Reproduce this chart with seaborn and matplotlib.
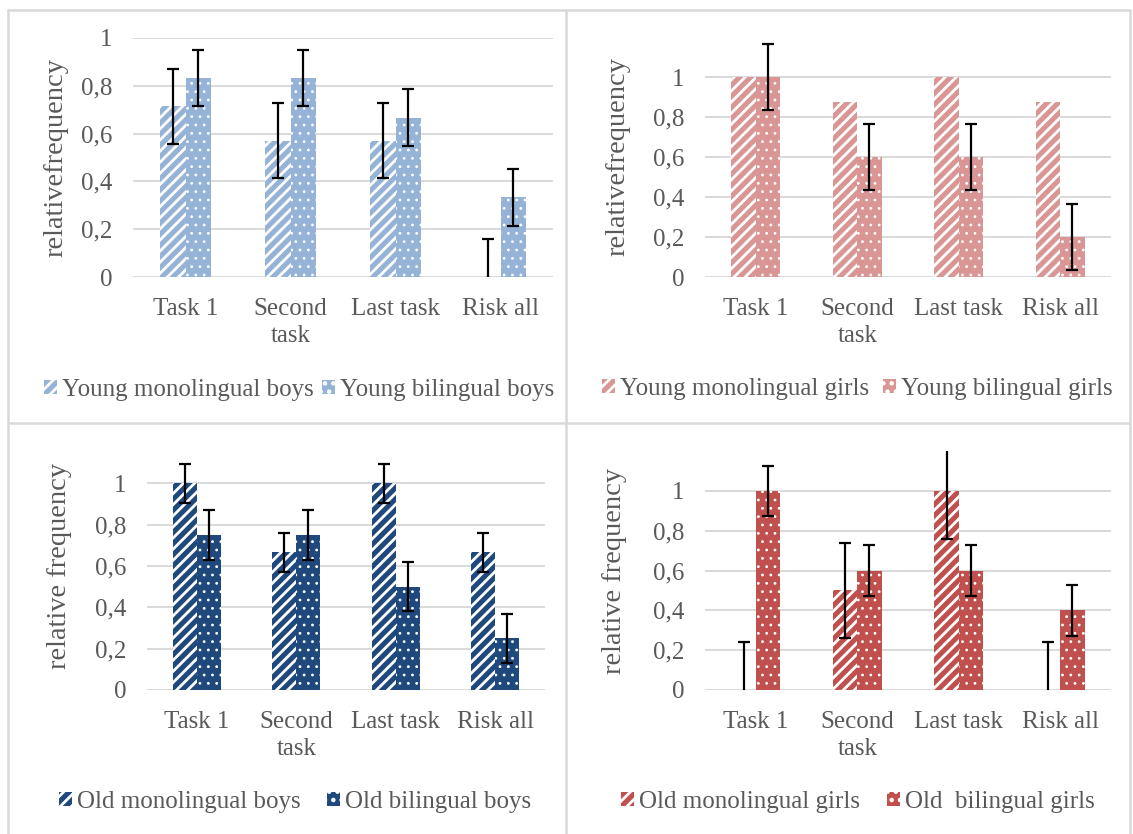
import numpy as np
import pandas as pd
import matplotlib
matplotlib.use("Agg")
import matplotlib.pyplot as plt
import seaborn as sns
from matplotlib.patches import Patch
from matplotlib.lines import Line2D

# ---------------- data ----------------
categories = ["Task 1", "Second\ntask", "Last task", "Risk all"]
ytick_values = [0, 0.2, 0.4, 0.6, 0.8, 1.0]
ytick_labels = ["0", "0,2", "0,4", "0,6", "0,8", "1"]

young_boys_mono = [0.714, 0.571, 0.571, 0.0]
young_boys_mono_err = [0.157, 0.157, 0.157, 0.157]
young_boys_bil = [0.833, 0.833, 0.667, 0.333]
young_boys_bil_err = [0.118, 0.118, 0.118, 0.118]

young_girls_mono = [1.0, 0.875, 1.0, 0.875]
young_girls_mono_err = None
young_girls_bil = [1.0, 0.6, 0.6, 0.2]
young_girls_bil_err = [0.163, 0.163, 0.163, 0.163]

old_boys_mono = [1.0, 0.667, 1.0, 0.667]
old_boys_mono_err = [0.095, 0.095, 0.095, 0.095]
old_boys_bil = [0.75, 0.75, 0.5, 0.25]
old_boys_bil_err = [0.12, 0.12, 0.12, 0.12]

old_girls_mono = [0.0, 0.5, 1.0, 0.0]
old_girls_mono_err = [0.24, 0.24, 0.24, 0.24]
old_girls_bil = [1.0, 0.6, 0.6, 0.4]
old_girls_bil_err = [0.127, 0.127, 0.127, 0.127]

legend_labels = [
    ["Young monolingual boys", "Young bilingual boys"],
    ["Young monolingual girls", "Young bilingual girls"],
    ["Old monolingual boys", "Old bilingual boys"],
    ["Old monolingual girls", "Old  bilingual girls"],
]
ylabels = ["relativefrequency", "relativefrequency", "relative frequency", "relative frequency"]
colors = ["#95B3D7", "#D99694", "#1F497D", "#C0504D"]

# ---------------- style ----------------
sns.set_style("white")
plt.rcParams["font.family"] = ["Liberation Serif", "DejaVu Serif"]
plt.rcParams["hatch.linewidth"] = 2.0
TEXT = "#595959"
GRID = "#D9D9D9"
FS = 18

W, H = 1133, 834
fig = plt.figure(figsize=(W / 100, H / 100), dpi=100)

# panel borders
for (x0, y0, x1, y1) in [(8, 10, 1130, 10), (8, 10, 8, 834), (1130, 10, 1130, 834),
                         (566, 10, 566, 834), (8, 423, 1130, 423)]:
    fig.add_artist(Line2D([x0 / W, x1 / W], [1 - y0 / H, 1 - y1 / H],
                          color=GRID, lw=1.8, transform=fig.transFigure))


def px_axes(left, right, top, bottom):
    return [left / W, 1 - bottom / H, (right - left) / W, (bottom - top) / H]


panels = [
    dict(rect=px_axes(133, 553, 38, 277), ymax=1.0, mono=young_boys_mono, mono_err=young_boys_mono_err,
         bil=young_boys_bil, bil_err=young_boys_bil_err, ylab_x=68, leg=(299, 390), colsp=0.35),
    dict(rect=px_axes(705, 1111, 37, 277), ymax=1.2, mono=young_girls_mono, mono_err=young_girls_mono_err,
         bil=young_girls_bil, bil_err=young_girls_bil_err, ylab_x=630, leg=(857, 389), colsp=0.55),
    dict(rect=px_axes(147, 545, 442, 690), ymax=1.2, mono=old_boys_mono, mono_err=old_boys_mono_err,
         bil=old_boys_bil, bil_err=old_boys_bil_err, ylab_x=72, leg=(295, 802), colsp=1.05),
    dict(rect=px_axes(705, 1111, 451, 690), ymax=1.2, mono=old_girls_mono, mono_err=old_girls_mono_err,
         bil=old_girls_bil, bil_err=old_girls_bil_err, ylab_x=627, leg=(858, 802), colsp=1.1),
]

MONO_HATCH = "///"
BIL_HATCH = ".."


def style_bar(p, hatch):
    p.set_hatch(hatch)
    p.set_edgecolor("white")
    p.set_linewidth(0)
    if hasattr(p, "set_hatch_linewidth"):
        p.set_hatch_linewidth(2.0 if hatch == MONO_HATCH else 0.8)


for i, pnl in enumerate(panels):
    ax = fig.add_axes(pnl["rect"])
    color = colors[i]
    df = pd.DataFrame({
        "task": categories * 2,
        "value": list(pnl["mono"]) + list(pnl["bil"]),
        "group": ["mono"] * 4 + ["bil"] * 4,
    })
    sns.barplot(data=df, x="task", y="value", hue="group", hue_order=["mono", "bil"],
                palette=[color, color], width=0.48, errorbar=None, saturation=1,
                legend=False, ax=ax)
    for p in ax.containers[0]:
        style_bar(p, MONO_HATCH)
    for p in ax.containers[1]:
        style_bar(p, BIL_HATCH)

    for cont, vals, errs in [(ax.containers[0], pnl["mono"], pnl["mono_err"]),
                             (ax.containers[1], pnl["bil"], pnl["bil_err"])]:
        if errs is None:
            continue
        xs = [p.get_x() + p.get_width() / 2 for p in cont]
        ax.errorbar(xs, vals, yerr=errs, fmt="none", ecolor="black", elinewidth=1.6,
                    capsize=4.3, capthick=1.6, zorder=5)

    ax.set_ylim(0, pnl["ymax"])
    ax.set_xlim(-0.5, 3.5)
    ax.set_yticks(ytick_values)
    ax.set_yticklabels(ytick_labels)
    ax.yaxis.grid(True, color=GRID, lw=1.4)
    ax.xaxis.grid(False)
    ax.set_axisbelow(True)
    for s in ax.spines.values():
        s.set_visible(False)
    ax.tick_params(axis="y", length=0, pad=15, labelsize=FS, labelcolor=TEXT)
    ax.tick_params(axis="x", length=0, pad=15, labelsize=FS, labelcolor=TEXT)
    for t in ax.get_xticklabels():
        t.set_linespacing(1.3)
    ax.set_xlabel("")
    ax.set_ylabel(ylabels[i], fontsize=FS + 2.5, color=TEXT)
    left_px = pnl["rect"][0] * W
    width_px = pnl["rect"][2] * W
    ax.yaxis.set_label_coords((pnl["ylab_x"] - left_px) / width_px, 0.5)

    handles = [Patch(facecolor=color, edgecolor="white", hatch=MONO_HATCH, linewidth=0),
               Patch(facecolor=color, edgecolor="white", hatch=BIL_HATCH, linewidth=0)]
    for h, hatch in zip(handles, [MONO_HATCH, BIL_HATCH]):
        if hasattr(h, "set_hatch_linewidth"):
            h.set_hatch_linewidth(2.0 if hatch == MONO_HATCH else 0.8)
    cx, cy = pnl["leg"]
    fig.legend(handles, legend_labels[i], loc="center", bbox_to_anchor=(cx / W, 1 - cy / H),
               ncol=2, frameon=False, fontsize=FS, labelcolor=TEXT, handlelength=0.52,
               handleheight=0.52, handletextpad=0.2, columnspacing=pnl["colsp"])

fig.savefig("out.png", dpi=100)
